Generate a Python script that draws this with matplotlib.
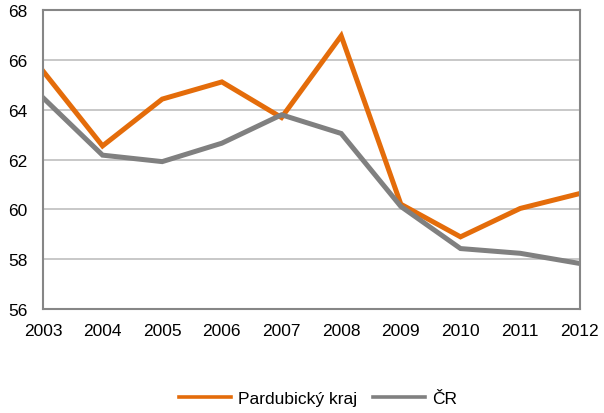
import matplotlib
matplotlib.use("Agg")
import matplotlib.pyplot as plt
from matplotlib.lines import Line2D

plt.rcParams['font.family'] = ['Liberation Sans', 'DejaVu Sans']

# --- Dati ---
years = [2003, 2004, 2005, 2006, 2007, 2008, 2009, 2010, 2011, 2012]
pardubicky = [65.56, 62.55, 64.43, 65.12, 63.69, 66.97, 60.21, 58.90, 60.04, 60.64]
cr = [64.49, 62.18, 61.92, 62.66, 63.80, 63.05, 60.12, 58.43, 58.24, 57.83]
yticks = [56, 58, 60, 62, 64, 66, 68]
c_orange = '#E46C0A'
c_grey = '#808080'

fig = plt.figure(figsize=(6.04, 4.14), dpi=100)
ax = fig.add_axes([0.071, 0.251, 0.889, 0.722])

ax.plot(years, pardubicky, color=c_orange, linewidth=3.6, solid_joinstyle='miter')
ax.plot(years, cr, color=c_grey, linewidth=3.6, solid_joinstyle='miter')

ax.set_xlim(years[0], years[-1])
ax.set_ylim(56, 68)
ax.set_xticks(years)
ax.set_yticks(yticks)
ax.grid(True, axis='y', color='#BFBFBF', linewidth=1.2)
ax.set_axisbelow(True)
for s in ax.spines.values():
    s.set_color('#868686')
    s.set_linewidth(1.5)
ax.tick_params(length=0, labelsize=12.5)
ax.tick_params(axis='x', pad=10)
ax.tick_params(axis='y', pad=11)

handles = [Line2D([], [], color=c_orange, linewidth=2.6),
           Line2D([], [], color=c_grey, linewidth=2.6)]
ax.legend(handles, ['Pardubický kraj', 'ČR'], loc='center',
          bbox_to_anchor=(0.512, -0.30), ncol=2, frameon=False,
          fontsize=12.5, handlelength=3.0, columnspacing=0.9, handletextpad=0.4)

fig.savefig("out.png", dpi=100)
